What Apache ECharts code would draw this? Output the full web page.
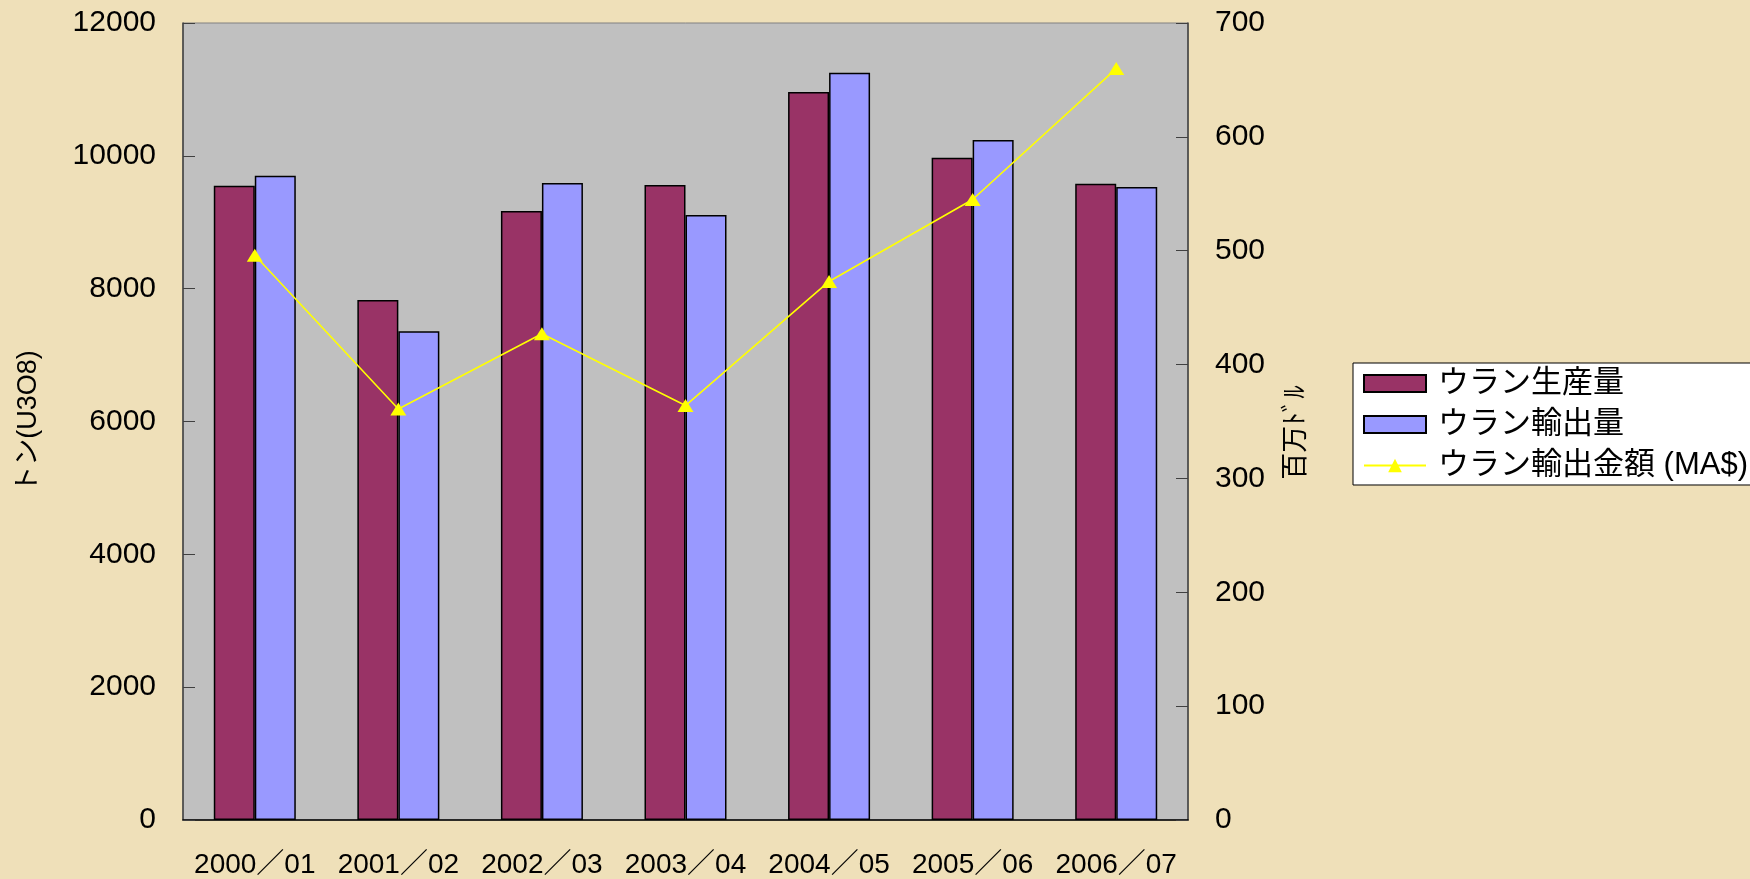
<!DOCTYPE html>
<html>
<head>
<meta charset="utf-8">
<script src="https://cdn.jsdelivr.net/npm/echarts@6/dist/echarts.min.js"></script>
<style>
html,body{margin:0;padding:0;width:1750px;height:879px;overflow:hidden;background:#efe0b9;}
#c{width:1750px;height:879px;}
</style>
</head>
<body>
<div id="c"></div>
<script>
const categories = ['2000／01','2001／02','2002／03','2003／04','2004／05','2005／06','2006／07'];
const production = [9550, 7830, 9170, 9560, 10960, 9970, 9580];
const exports = [9700, 7360, 9590, 9110, 11250, 10240, 9530];
const exportValue = [496, 361, 427, 364, 473, 545, 660];
const seriesNames = ['ウラン生産量', 'ウラン輸出量', 'ウラン輸出金額 (MA$)'];

const FONT = "'Liberation Sans', Arial, 'Noto Sans CJK JP', sans-serif";
const chart = echarts.init(document.getElementById('c'));
chart.setOption({
  backgroundColor: '#efe0b9',
  animation: false,
  textStyle: {fontFamily: FONT, color: '#000'},
  grid: {left: 183, right: 562, top: 23, bottom: 57, show: true, backgroundColor: '#c0c0c0', borderColor: '#808080', borderWidth: 1},
  legend: {
    left: 1353, top: 363, orient: 'vertical',
    backgroundColor: '#fff', borderColor: '#000', borderWidth: 1,
    padding: [5, 120, 4, 10], itemGap: 10, itemWidth: 62, itemHeight: 17,
    textStyle: {fontFamily: FONT, fontSize: 31, color: '#000', lineHeight: 30, padding: [0,0,0,7]},
    data: [
      {name: seriesNames[0], icon: 'rect'},
      {name: seriesNames[1], icon: 'rect'},
      {name: seriesNames[2]}
    ]
  },
  xAxis: {
    type: 'category', data: categories,
    axisLine: {lineStyle: {color: '#000', width: 1.5}},
    axisTick: {inside: true, length: 10, lineStyle: {color: '#000'}},
    axisLabel: {fontSize: 28, margin: 31, color: '#000', fontFamily: FONT, interval: 0}
  },
  yAxis: [
    {
      type: 'value', min: 0, max: 12000, interval: 2000,
      name: 'トン(U3O8)', nameLocation: 'middle', nameRotate: 90, nameGap: 141,
      nameTextStyle: {fontSize: 27, color: '#000', fontFamily: FONT},
      axisLine: {show: true, lineStyle: {color: '#404040', width: 1.5}},
      axisTick: {show: true, inside: true, length: 12, lineStyle: {color: '#404040'}},
      axisLabel: {fontSize: 30, margin: 27, color: '#000', fontFamily: FONT, formatter: v => String(v)},
      splitLine: {show: false}
    },
    {
      type: 'value', min: 0, max: 700, interval: 100, position: 'right',
      name: '百万ﾄﾞﾙ', nameLocation: 'middle', nameRotate: 90, nameGap: 95,
      nameTextStyle: {fontSize: 27, color: '#000', fontFamily: FONT, padding: [0, 22, 0, 0]},
      axisLine: {show: true, lineStyle: {color: '#404040', width: 1.5}},
      axisTick: {show: true, inside: true, length: 12, lineStyle: {color: '#404040'}},
      axisLabel: {fontSize: 30, margin: 27, color: '#000', fontFamily: FONT, formatter: v => String(v)},
      splitLine: {show: false}
    }
  ],
  series: [
    {name: seriesNames[0], type: 'bar', data: production, barWidth: 41, barGap: '0%',
     itemStyle: {color: '#993366', borderColor: '#000', borderWidth: 1.5}},
    {name: seriesNames[1], type: 'bar', data: exports, barWidth: 41, barGap: '0%',
     itemStyle: {color: '#9999ff', borderColor: '#000', borderWidth: 1.5}},
    {name: seriesNames[2], type: 'line', yAxisIndex: 1, data: exportValue,
     symbol: 'triangle', symbolSize: [16, 13],
     lineStyle: {color: '#ffff00', width: 1.6}, itemStyle: {color: '#ffff00'}}
  ]
});
</script>
</body>
</html>
